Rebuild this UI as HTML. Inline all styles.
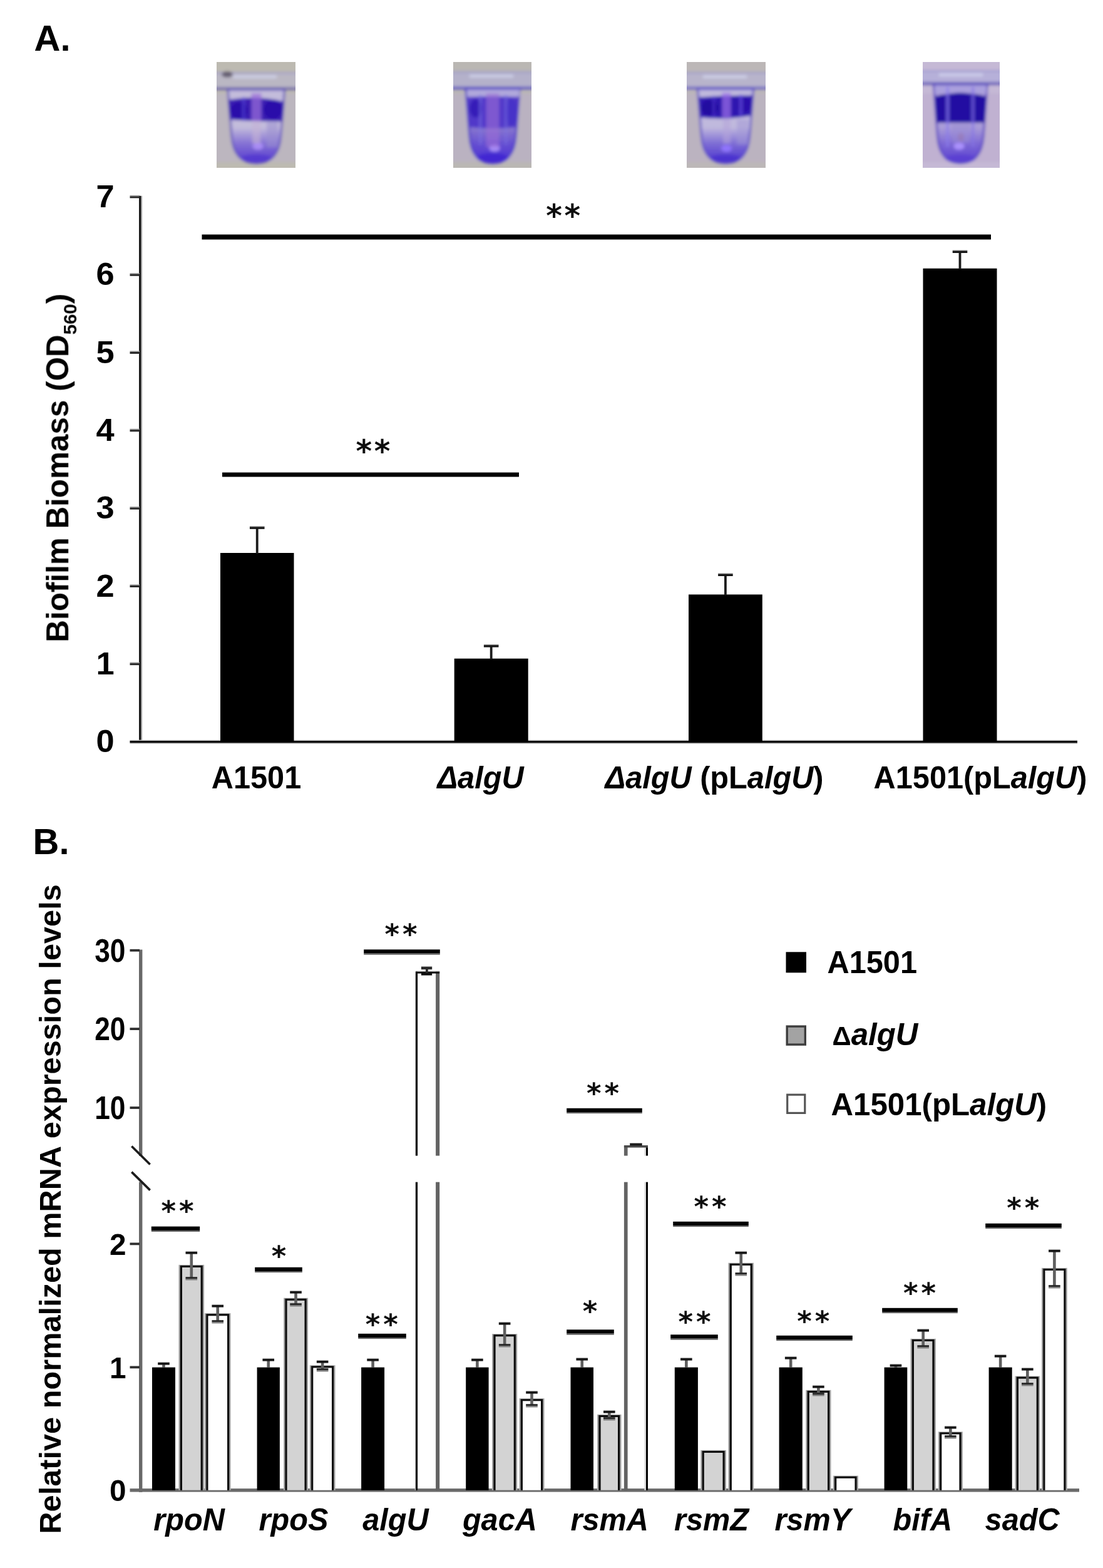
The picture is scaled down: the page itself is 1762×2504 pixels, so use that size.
<!DOCTYPE html>
<html lang="en">
<head>
<meta charset="utf-8">
<title>Figure: biofilm biomass and relative mRNA expression</title>
<style>
html,body{margin:0;padding:0;background:#fff;}
body{width:1762px;height:2504px;overflow:hidden;}
svg{display:block;}
text{font-family:"Liberation Sans", sans-serif;}
</style>
</head>
<body>
<svg width="1762" height="2504" viewBox="0 0 1762 2504">
<defs>
<filter id="b3" x="-20%" y="-20%" width="140%" height="140%"><feGaussianBlur stdDeviation="2.5"/></filter>
<filter id="b1" x="-20%" y="-20%" width="140%" height="140%"><feGaussianBlur stdDeviation="1.2"/></filter>
<filter id="soft2" filterUnits="userSpaceOnUse" x="0" y="0" width="1762" height="2504"><feGaussianBlur stdDeviation="0.45"/></filter>
<filter id="soft" filterUnits="userSpaceOnUse" x="0" y="0" width="1762" height="2504"><feGaussianBlur stdDeviation="0.7"/></filter>
</defs>
<rect x="0" y="0" width="1762" height="2504" fill="#fff"/>
<g id="fig" filter="url(#soft2)">

<clipPath id="tc0"><rect x="0" y="0" width="126" height="169"/></clipPath>
<clipPath id="tc1"><rect x="0" y="0" width="125" height="169"/></clipPath>
<clipPath id="tc2"><rect x="0" y="0" width="126" height="169"/></clipPath>
<clipPath id="tc3"><rect x="0" y="0" width="123" height="169"/></clipPath>
<g transform="translate(346,99)" clip-path="url(#tc0)">
<rect x="-10" y="-10" width="146" height="189" fill="#bdbab1"/>
<g filter="url(#b3)">
<linearGradient id="pool1" x1="0" y1="0" x2="0" y2="1"><stop offset="0" stop-color="#5438cf" stop-opacity="0"/><stop offset="0.45" stop-color="#5438cf" stop-opacity="0.55"/><stop offset="1" stop-color="#5438cf" stop-opacity="1"/></linearGradient>
<rect x="-10" y="50" width="150" height="110" fill="#bcb5c2" opacity="0.85"/>
<rect x="-10" y="16" width="150" height="26" fill="#b9b5ca" opacity="0.75"/>
<rect x="-10" y="16" width="150" height="2.6" fill="#8f8ccb" opacity="0.55"/>
<rect x="26" y="21" width="70" height="5" fill="#d3d6ee" opacity="0.75"/>
<rect x="-10" y="40.5" width="150" height="4.4" fill="#6b63a6" opacity="0.95"/>
<path d="M18,44 L24.0,118 C26.0,146.71 38.815,161.5 63.25,161.5 C87.685,161.5 100.5,146.71 102.5,118 L108.5,44 Z" fill="#c3bddd" fill-opacity="0.92" stroke="#5b4eba" stroke-width="3.0" stroke-opacity="0.9"/>
<path d="M20,104 L26.0,122 C28.0,147.41 39.894999999999996,160.5 63.25,160.5 C86.605,160.5 98.5,147.41 100.5,122 L106.5,104 Z" fill="url(#pool1)" fill-opacity="1"/>
<ellipse cx="63.25" cy="154" rx="24" ry="6.5" fill="#5438cf" opacity="0.9"/>
<ellipse cx="66" cy="134.5" rx="8.5" ry="5.5" fill="#ab8ef6" opacity="0.95"/>
<ellipse cx="17" cy="20" rx="9" ry="4.5" fill="#5f586a" opacity="0.95"/>
<rect x="80" y="96" width="18" height="40" fill="#9a8fd0" opacity="0.55"/>
<path d="M18.5,60.5 Q63.25,52 108,63.5 L105.5,95.0 Q63.25,95.5 21.0,92.0 Z" fill="#3a1fb2" fill-opacity="1"/>
<ellipse cx="36" cy="78" rx="14" ry="14" fill="#2a0ca8" opacity="0.9"/>
<ellipse cx="90" cy="76" rx="15" ry="16" fill="#2a0ca8" opacity="0.9"/>
<rect x="55.5" y="50" width="16" height="44" fill="#9b6dda" opacity="0.7"/>
<rect x="57" y="94" width="13" height="36" fill="#c4b3d6" opacity="0.6"/>
<rect x="41" y="56" width="4.5" height="38" fill="#5f51e2" opacity="0.5"/>
</g>
</g>
<g transform="translate(724,99)" clip-path="url(#tc1)">
<rect x="-10" y="-10" width="145" height="189" fill="#bab7b3"/>
<g filter="url(#b3)">
<linearGradient id="pool2" x1="0" y1="0" x2="0" y2="1"><stop offset="0" stop-color="#4a2fd4" stop-opacity="0"/><stop offset="0.45" stop-color="#4a2fd4" stop-opacity="0.55"/><stop offset="1" stop-color="#4a2fd4" stop-opacity="1"/></linearGradient>
<rect x="-10" y="50" width="150" height="110" fill="#bab2c3" opacity="0.85"/>
<rect x="-10" y="15" width="150" height="26" fill="#b2afd2" opacity="0.75"/>
<rect x="-10" y="15" width="150" height="2.6" fill="#8f8ccb" opacity="0.55"/>
<rect x="26" y="20" width="70" height="5" fill="#d3d6ee" opacity="0.75"/>
<rect x="-10" y="39.5" width="150" height="4.4" fill="#5c51c2" opacity="0.95"/>
<path d="M20,43 L26.0,118 C28.0,146.71 39.78,161.5 63.0,161.5 C86.22,161.5 98.0,146.71 100.0,118 L106,43 Z" fill="#8574cf" fill-opacity="0.92" stroke="#4535c4" stroke-width="3.0" stroke-opacity="0.9"/>
<path d="M22,104 L28.0,122 C30.0,147.41 40.86,160.5 63.0,160.5 C85.14,160.5 96.0,147.41 98.0,122 L104,104 Z" fill="url(#pool2)" fill-opacity="1"/>
<ellipse cx="63.0" cy="154" rx="24" ry="6.5" fill="#4a2fd4" opacity="0.9"/>
<ellipse cx="66" cy="137.5" rx="8.5" ry="5.5" fill="#a98ef8" opacity="0.95"/>
<rect x="22" y="44" width="84" height="11" fill="#b9b2de" opacity="0.85"/>
<path d="M22,57 Q63.5,53 105,57 L102.5,104 Q63.5,108 24.5,104 Z" fill="#4e36c8" fill-opacity="0.95"/>
<ellipse cx="36" cy="74" rx="10" ry="15" fill="#3118b6" opacity="0.9"/>
<ellipse cx="93" cy="80" rx="9" ry="22" fill="#4331c8" opacity="0.8"/>
<rect x="52.5" y="50" width="21" height="86" fill="#9c6ed6" opacity="0.6"/>
<rect x="41" y="52" width="4.5" height="80" fill="#7f76e4" opacity="0.5"/>
<rect x="82" y="52" width="4.5" height="80" fill="#7f76e4" opacity="0.45"/>
<ellipse cx="63" cy="153" rx="25" ry="8" fill="#4128d2" opacity="0.9"/>
</g>
</g>
<g transform="translate(1097,99)" clip-path="url(#tc2)">
<rect x="-10" y="-10" width="146" height="189" fill="#bcb7b7"/>
<g filter="url(#b3)">
<linearGradient id="pool3" x1="0" y1="0" x2="0" y2="1"><stop offset="0" stop-color="#4a32ce" stop-opacity="0"/><stop offset="0.45" stop-color="#4a32ce" stop-opacity="0.55"/><stop offset="1" stop-color="#4a32ce" stop-opacity="1"/></linearGradient>
<rect x="-10" y="50" width="150" height="110" fill="#bbb3c2" opacity="0.85"/>
<rect x="-10" y="16" width="150" height="25" fill="#b7b3d2" opacity="0.75"/>
<rect x="-10" y="16" width="150" height="2.6" fill="#8f8ccb" opacity="0.55"/>
<rect x="26" y="21" width="70" height="5" fill="#d3d6ee" opacity="0.75"/>
<rect x="-10" y="39.5" width="150" height="4.4" fill="#6a62c4" opacity="0.95"/>
<path d="M17.5,43 L23.5,118 C25.5,146.71 37.97,161.5 62.0,161.5 C86.03,161.5 98.5,146.71 100.5,118 L106.5,43 Z" fill="#c0badf" fill-opacity="0.92" stroke="#5849c4" stroke-width="3.0" stroke-opacity="0.9"/>
<path d="M19.5,104 L25.5,122 C27.5,147.41 39.05,160.5 62.0,160.5 C84.95,160.5 96.5,147.41 98.5,122 L104.5,104 Z" fill="url(#pool3)" fill-opacity="1"/>
<ellipse cx="62.0" cy="154" rx="24" ry="6.5" fill="#4a32ce" opacity="0.9"/>
<ellipse cx="63.5" cy="138" rx="8.5" ry="5.5" fill="#9176ff" opacity="0.95"/>
<rect x="80" y="92" width="18" height="40" fill="#a197d6" opacity="0.5"/>
<path d="M19.5,56.5 Q62.5,53 105.5,53.5 L103.0,85.5 Q62.5,93 22.0,88.5 Z" fill="#2f13b0" fill-opacity="1"/>
<ellipse cx="37" cy="73" rx="14" ry="12" fill="#22089e" opacity="0.9"/>
<ellipse cx="91" cy="68" rx="12" ry="11" fill="#2b10ac" opacity="0.85"/>
<rect x="56.5" y="49" width="14" height="40" fill="#9d70e8" opacity="0.7"/>
<rect x="58" y="90" width="12" height="40" fill="#b5a4da" opacity="0.55"/>
<rect x="84" y="52" width="5" height="34" fill="#6d56e2" opacity="0.6"/>
<rect x="41" y="54" width="4.5" height="34" fill="#5b48dc" opacity="0.45"/>
</g>
</g>
<g transform="translate(1474,99)" clip-path="url(#tc3)">
<rect x="-10" y="-10" width="143" height="189" fill="#c2b5d1"/>
<g filter="url(#b3)">
<rect x="-10" y="-10" width="150" height="200" fill="#c8bcd8" opacity="0.55"/>
<linearGradient id="pool4" x1="0" y1="0" x2="0" y2="1"><stop offset="0" stop-color="#5a40d2" stop-opacity="0"/><stop offset="0.45" stop-color="#5a40d2" stop-opacity="0.55"/><stop offset="1" stop-color="#5a40d2" stop-opacity="1"/></linearGradient>
<rect x="-10" y="50" width="150" height="110" fill="#c0b0d0" opacity="0.85"/>
<rect x="-10" y="13" width="150" height="21" fill="#b2acda" opacity="0.75"/>
<rect x="-10" y="13" width="150" height="2.6" fill="#8f8ccb" opacity="0.55"/>
<rect x="26" y="18" width="70" height="5" fill="#d3d6ee" opacity="0.75"/>
<rect x="-10" y="32.5" width="150" height="4.4" fill="#5b50b4" opacity="0.95"/>
<path d="M17.5,36 L23.5,118 C25.5,146.71 37.165,161.5 60.25,161.5 C83.33500000000001,161.5 95.0,146.71 97.0,118 L103,36 Z" fill="#a99cd9" fill-opacity="0.92" stroke="#4c3abe" stroke-width="3.0" stroke-opacity="0.9"/>
<path d="M19.5,104 L25.5,122 C27.5,147.41 38.245,160.5 60.25,160.5 C82.255,160.5 93.0,147.41 95.0,122 L101,104 Z" fill="url(#pool4)" fill-opacity="1"/>
<ellipse cx="60.25" cy="154" rx="24" ry="6.5" fill="#5a40d2" opacity="0.9"/>
<ellipse cx="58" cy="134.5" rx="8.5" ry="5.5" fill="#ad94ff" opacity="0.95"/>
<rect x="19" y="37" width="83" height="13" fill="#aaa1de" opacity="0.8"/>
<path d="M19.5,55 Q60.5,44.0 101.5,55 L99.0,97 Q60.5,97 22.0,97 Z" fill="#230aa2" fill-opacity="1"/>
<ellipse cx="60" cy="57" rx="17" ry="8" fill="#230aa2" opacity="1"/>
<rect x="37.5" y="40" width="4.5" height="96" fill="#8c7eec" opacity="0.7"/>
<rect x="78" y="40" width="4.5" height="96" fill="#8674e6" opacity="0.65"/>
<rect x="47" y="99" width="28" height="30" fill="#9a8cd4" opacity="0.5"/>
<ellipse cx="61" cy="120" rx="5" ry="7" fill="#9a74a0" opacity="0.4"/>
</g>
</g>
<g id="panelA">
<rect x="225.60" y="312.80" width="2.00" height="873.30" fill="#c8c8c8" />
<rect x="222.00" y="312.80" width="3.60" height="873.30" fill="#1a1a1a" />
<rect x="207.50" y="1181.60" width="1513.50" height="6.10" fill="#c4c4c4" />
<rect x="207.50" y="1183.00" width="1513.50" height="3.40" fill="#0c0c0c" />
<rect x="207.50" y="1057.60" width="15.50" height="1.60" fill="#9a9a9a" />
<rect x="207.50" y="1059.20" width="15.50" height="3.00" fill="#262626" />
<rect x="207.50" y="933.30" width="15.50" height="1.60" fill="#9a9a9a" />
<rect x="207.50" y="934.90" width="15.50" height="3.00" fill="#262626" />
<rect x="207.50" y="809.00" width="15.50" height="1.60" fill="#9a9a9a" />
<rect x="207.50" y="810.60" width="15.50" height="3.00" fill="#262626" />
<rect x="207.50" y="684.70" width="15.50" height="1.60" fill="#9a9a9a" />
<rect x="207.50" y="686.30" width="15.50" height="3.00" fill="#262626" />
<rect x="207.50" y="560.40" width="15.50" height="1.60" fill="#9a9a9a" />
<rect x="207.50" y="562.00" width="15.50" height="3.00" fill="#262626" />
<rect x="207.50" y="436.10" width="15.50" height="1.60" fill="#9a9a9a" />
<rect x="207.50" y="437.70" width="15.50" height="3.00" fill="#262626" />
<rect x="207.50" y="311.80" width="15.50" height="1.60" fill="#9a9a9a" />
<rect x="207.50" y="313.40" width="15.50" height="3.00" fill="#262626" />
<rect x="352.00" y="883.00" width="117.50" height="301.50" fill="#000" />
<rect x="408.85" y="842.80" width="3.80" height="41.20" fill="#1c1c1c" />
<rect x="398.95" y="840.20" width="23.60" height="1.40" fill="#9a9a9a" />
<rect x="398.95" y="841.40" width="23.60" height="3.40" fill="#141414" />
<rect x="725.70" y="1051.70" width="118.00" height="132.80" fill="#000" />
<rect x="782.80" y="1031.60" width="3.80" height="21.10" fill="#1c1c1c" />
<rect x="772.90" y="1029.00" width="23.60" height="1.40" fill="#9a9a9a" />
<rect x="772.90" y="1030.20" width="23.60" height="3.40" fill="#141414" />
<rect x="1100.00" y="949.40" width="117.80" height="235.10" fill="#000" />
<rect x="1157.00" y="918.00" width="3.80" height="32.40" fill="#1c1c1c" />
<rect x="1147.10" y="915.40" width="23.60" height="1.40" fill="#9a9a9a" />
<rect x="1147.10" y="916.60" width="23.60" height="3.40" fill="#141414" />
<rect x="1474.50" y="428.70" width="118.00" height="755.80" fill="#000" />
<rect x="1531.60" y="402.00" width="3.80" height="27.70" fill="#1c1c1c" />
<rect x="1521.70" y="399.40" width="23.60" height="1.40" fill="#9a9a9a" />
<rect x="1521.70" y="400.60" width="23.60" height="3.40" fill="#141414" />
<rect x="322.50" y="374.50" width="1260.50" height="8.00" fill="#000" />
<rect x="355.00" y="754.50" width="474.00" height="7.00" fill="#000" />
</g>
<g id="panelB">
<rect x="222.00" y="1516.50" width="5.40" height="329.50" fill="#686868" />
<rect x="222.00" y="1887.50" width="5.40" height="495.30" fill="#686868" />
<line x1="210.3" y1="1830.5" x2="239.7" y2="1859.5" stroke="#1c1c1c" stroke-width="3.6"/>
<line x1="210.3" y1="1871.6" x2="239.7" y2="1900.6" stroke="#1c1c1c" stroke-width="3.6"/>
<rect x="207.50" y="2377.10" width="1516.50" height="5.40" fill="#6a6a6a" />
<rect x="207.50" y="1515.80" width="15.50" height="3.80" fill="#2e2e2e" />
<rect x="207.50" y="1641.20" width="15.50" height="3.80" fill="#2e2e2e" />
<rect x="207.50" y="1767.10" width="15.50" height="3.80" fill="#2e2e2e" />
<rect x="207.50" y="1984.50" width="15.50" height="3.80" fill="#2e2e2e" />
<rect x="207.50" y="2181.50" width="15.50" height="3.80" fill="#2e2e2e" />
<rect x="243.00" y="2183.60" width="37.00" height="196.20" fill="#000" />
<rect x="259.20" y="2178.00" width="4.60" height="6.00" fill="#5e5e5e" />
<rect x="252.20" y="2176.00" width="18.60" height="3.60" fill="#161616" />
<rect x="252.20" y="2174.80" width="18.60" height="1.20" fill="#b8b8b8" />
<rect x="285.40" y="2019.80" width="40.80" height="360.00" fill="#b4b4b4" />
<rect x="286.80" y="2020.60" width="38.00" height="359.20" fill="#7a7a7a" />
<rect x="288.00" y="2021.00" width="35.60" height="358.80" fill="#0a0a0a" />
<rect x="291.00" y="2024.00" width="29.60" height="355.80" fill="#d3d3d3" />
<rect x="303.50" y="2001.00" width="4.60" height="40.00" fill="#5e5e5e" />
<rect x="296.50" y="1999.00" width="18.60" height="3.60" fill="#161616" />
<rect x="296.50" y="1997.80" width="18.60" height="1.20" fill="#b8b8b8" />
<rect x="296.50" y="2039.20" width="18.60" height="3.20" fill="#262626" />
<rect x="296.50" y="2042.40" width="18.60" height="2.00" fill="#7a7a7a" />
<rect x="326.90" y="2097.10" width="41.70" height="282.70" fill="#b4b4b4" />
<rect x="328.30" y="2097.90" width="38.90" height="281.90" fill="#7a7a7a" />
<rect x="329.50" y="2098.30" width="36.50" height="281.50" fill="#0a0a0a" />
<rect x="332.50" y="2101.30" width="30.50" height="278.50" fill="#fff" />
<rect x="345.45" y="2086.00" width="4.60" height="24.00" fill="#5e5e5e" />
<rect x="338.45" y="2084.00" width="18.60" height="3.60" fill="#161616" />
<rect x="338.45" y="2082.80" width="18.60" height="1.20" fill="#b8b8b8" />
<rect x="338.45" y="2108.20" width="18.60" height="3.20" fill="#262626" />
<rect x="338.45" y="2111.40" width="18.60" height="2.00" fill="#7a7a7a" />
<rect x="410.60" y="2183.60" width="36.30" height="196.20" fill="#000" />
<rect x="426.45" y="2172.00" width="4.60" height="12.00" fill="#5e5e5e" />
<rect x="419.45" y="2170.00" width="18.60" height="3.60" fill="#161616" />
<rect x="419.45" y="2168.80" width="18.60" height="1.20" fill="#b8b8b8" />
<rect x="453.00" y="2072.70" width="39.10" height="307.10" fill="#b4b4b4" />
<rect x="454.40" y="2073.50" width="36.30" height="306.30" fill="#7a7a7a" />
<rect x="455.60" y="2073.90" width="33.90" height="305.90" fill="#0a0a0a" />
<rect x="458.60" y="2076.90" width="27.90" height="302.90" fill="#d3d3d3" />
<rect x="470.25" y="2064.00" width="4.60" height="19.00" fill="#5e5e5e" />
<rect x="463.25" y="2062.00" width="18.60" height="3.60" fill="#161616" />
<rect x="463.25" y="2060.80" width="18.60" height="1.20" fill="#b8b8b8" />
<rect x="463.25" y="2081.20" width="18.60" height="3.20" fill="#262626" />
<rect x="463.25" y="2084.40" width="18.60" height="2.00" fill="#7a7a7a" />
<rect x="494.70" y="2180.20" width="40.90" height="199.60" fill="#b4b4b4" />
<rect x="496.10" y="2181.00" width="38.10" height="198.80" fill="#7a7a7a" />
<rect x="497.30" y="2181.40" width="35.70" height="198.40" fill="#0a0a0a" />
<rect x="500.30" y="2184.40" width="29.70" height="195.40" fill="#fff" />
<rect x="512.85" y="2175.00" width="4.60" height="12.00" fill="#5e5e5e" />
<rect x="505.85" y="2173.00" width="18.60" height="3.60" fill="#161616" />
<rect x="505.85" y="2171.80" width="18.60" height="1.20" fill="#b8b8b8" />
<rect x="505.85" y="2185.20" width="18.60" height="3.20" fill="#262626" />
<rect x="505.85" y="2188.40" width="18.60" height="2.00" fill="#7a7a7a" />
<rect x="577.10" y="2183.60" width="37.00" height="196.20" fill="#000" />
<rect x="593.30" y="2172.00" width="4.60" height="12.00" fill="#5e5e5e" />
<rect x="586.30" y="2170.00" width="18.60" height="3.60" fill="#161616" />
<rect x="586.30" y="2168.80" width="18.60" height="1.20" fill="#b8b8b8" />
<rect x="744.20" y="2183.60" width="36.40" height="196.20" fill="#000" />
<rect x="760.10" y="2172.00" width="4.60" height="12.00" fill="#5e5e5e" />
<rect x="753.10" y="2170.00" width="18.60" height="3.60" fill="#161616" />
<rect x="753.10" y="2168.80" width="18.60" height="1.20" fill="#b8b8b8" />
<rect x="786.00" y="2130.10" width="40.30" height="249.70" fill="#b4b4b4" />
<rect x="787.40" y="2130.90" width="37.50" height="248.90" fill="#7a7a7a" />
<rect x="788.60" y="2131.30" width="35.10" height="248.50" fill="#0a0a0a" />
<rect x="791.60" y="2134.30" width="29.10" height="245.50" fill="#d3d3d3" />
<rect x="803.85" y="2114.00" width="4.60" height="34.00" fill="#5e5e5e" />
<rect x="796.85" y="2112.00" width="18.60" height="3.60" fill="#161616" />
<rect x="796.85" y="2110.80" width="18.60" height="1.20" fill="#b8b8b8" />
<rect x="796.85" y="2146.20" width="18.60" height="3.20" fill="#262626" />
<rect x="796.85" y="2149.40" width="18.60" height="2.00" fill="#7a7a7a" />
<rect x="829.40" y="2233.10" width="40.20" height="146.70" fill="#b4b4b4" />
<rect x="830.80" y="2233.90" width="37.40" height="145.90" fill="#7a7a7a" />
<rect x="832.00" y="2234.30" width="35.00" height="145.50" fill="#0a0a0a" />
<rect x="835.00" y="2237.30" width="29.00" height="142.50" fill="#fff" />
<rect x="847.20" y="2224.00" width="4.60" height="20.00" fill="#5e5e5e" />
<rect x="840.20" y="2222.00" width="18.60" height="3.60" fill="#161616" />
<rect x="840.20" y="2220.80" width="18.60" height="1.20" fill="#b8b8b8" />
<rect x="840.20" y="2242.20" width="18.60" height="3.20" fill="#262626" />
<rect x="840.20" y="2245.40" width="18.60" height="2.00" fill="#7a7a7a" />
<rect x="911.50" y="2183.60" width="36.50" height="196.20" fill="#000" />
<rect x="927.45" y="2171.00" width="4.60" height="13.00" fill="#5e5e5e" />
<rect x="920.45" y="2169.00" width="18.60" height="3.60" fill="#161616" />
<rect x="920.45" y="2167.80" width="18.60" height="1.20" fill="#b8b8b8" />
<rect x="954.00" y="2258.80" width="38.60" height="121.00" fill="#b4b4b4" />
<rect x="955.40" y="2259.60" width="35.80" height="120.20" fill="#7a7a7a" />
<rect x="956.60" y="2260.00" width="33.40" height="119.80" fill="#0a0a0a" />
<rect x="959.60" y="2263.00" width="27.40" height="116.80" fill="#d3d3d3" />
<rect x="971.00" y="2255.00" width="4.60" height="10.00" fill="#5e5e5e" />
<rect x="964.00" y="2253.00" width="18.60" height="3.60" fill="#161616" />
<rect x="964.00" y="2251.80" width="18.60" height="1.20" fill="#b8b8b8" />
<rect x="964.00" y="2263.20" width="18.60" height="3.20" fill="#262626" />
<rect x="964.00" y="2266.40" width="18.60" height="2.00" fill="#7a7a7a" />
<rect x="1077.80" y="2183.60" width="37.10" height="196.20" fill="#000" />
<rect x="1094.05" y="2171.00" width="4.60" height="13.00" fill="#5e5e5e" />
<rect x="1087.05" y="2169.00" width="18.60" height="3.60" fill="#161616" />
<rect x="1087.05" y="2167.80" width="18.60" height="1.20" fill="#b8b8b8" />
<rect x="1119.20" y="2315.80" width="40.90" height="64.00" fill="#b4b4b4" />
<rect x="1120.60" y="2316.60" width="38.10" height="63.20" fill="#7a7a7a" />
<rect x="1121.80" y="2317.00" width="35.70" height="62.80" fill="#0a0a0a" />
<rect x="1124.80" y="2320.00" width="29.70" height="59.80" fill="#d3d3d3" />
<rect x="1163.30" y="2016.70" width="40.90" height="363.10" fill="#b4b4b4" />
<rect x="1164.70" y="2017.50" width="38.10" height="362.30" fill="#7a7a7a" />
<rect x="1165.90" y="2017.90" width="35.70" height="361.90" fill="#0a0a0a" />
<rect x="1168.90" y="2020.90" width="29.70" height="358.90" fill="#fff" />
<rect x="1181.45" y="2001.00" width="4.60" height="33.00" fill="#5e5e5e" />
<rect x="1174.45" y="1999.00" width="18.60" height="3.60" fill="#161616" />
<rect x="1174.45" y="1997.80" width="18.60" height="1.20" fill="#b8b8b8" />
<rect x="1174.45" y="2032.20" width="18.60" height="3.20" fill="#262626" />
<rect x="1174.45" y="2035.40" width="18.60" height="2.00" fill="#7a7a7a" />
<rect x="1244.60" y="2183.60" width="37.20" height="196.20" fill="#000" />
<rect x="1260.90" y="2169.00" width="4.60" height="15.00" fill="#5e5e5e" />
<rect x="1253.90" y="2167.00" width="18.60" height="3.60" fill="#161616" />
<rect x="1253.90" y="2165.80" width="18.60" height="1.20" fill="#b8b8b8" />
<rect x="1287.20" y="2219.80" width="40.40" height="160.00" fill="#b4b4b4" />
<rect x="1288.60" y="2220.60" width="37.60" height="159.20" fill="#7a7a7a" />
<rect x="1289.80" y="2221.00" width="35.20" height="158.80" fill="#0a0a0a" />
<rect x="1292.80" y="2224.00" width="29.20" height="155.80" fill="#d3d3d3" />
<rect x="1305.10" y="2215.00" width="4.60" height="11.00" fill="#5e5e5e" />
<rect x="1298.10" y="2213.00" width="18.60" height="3.60" fill="#161616" />
<rect x="1298.10" y="2211.80" width="18.60" height="1.20" fill="#b8b8b8" />
<rect x="1298.10" y="2224.20" width="18.60" height="3.20" fill="#262626" />
<rect x="1298.10" y="2227.40" width="18.60" height="2.00" fill="#7a7a7a" />
<rect x="1330.70" y="2356.60" width="40.40" height="23.20" fill="#b4b4b4" />
<rect x="1332.10" y="2357.40" width="37.60" height="22.40" fill="#7a7a7a" />
<rect x="1333.30" y="2357.80" width="35.20" height="22.00" fill="#0a0a0a" />
<rect x="1336.30" y="2360.80" width="29.20" height="19.00" fill="#fff" />
<rect x="1412.60" y="2183.60" width="36.70" height="196.20" fill="#000" />
<rect x="1428.65" y="2181.00" width="4.60" height="3.00" fill="#5e5e5e" />
<rect x="1421.65" y="2179.00" width="18.60" height="3.60" fill="#161616" />
<rect x="1421.65" y="2177.80" width="18.60" height="1.20" fill="#b8b8b8" />
<rect x="1454.40" y="2137.80" width="40.60" height="242.00" fill="#b4b4b4" />
<rect x="1455.80" y="2138.60" width="37.80" height="241.20" fill="#7a7a7a" />
<rect x="1457.00" y="2139.00" width="35.40" height="240.80" fill="#0a0a0a" />
<rect x="1460.00" y="2142.00" width="29.40" height="237.80" fill="#d3d3d3" />
<rect x="1472.40" y="2125.00" width="4.60" height="25.00" fill="#5e5e5e" />
<rect x="1465.40" y="2123.00" width="18.60" height="3.60" fill="#161616" />
<rect x="1465.40" y="2121.80" width="18.60" height="1.20" fill="#b8b8b8" />
<rect x="1465.40" y="2148.20" width="18.60" height="3.20" fill="#262626" />
<rect x="1465.40" y="2151.40" width="18.60" height="2.00" fill="#7a7a7a" />
<rect x="1498.70" y="2286.30" width="39.30" height="93.50" fill="#b4b4b4" />
<rect x="1500.10" y="2287.10" width="36.50" height="92.70" fill="#7a7a7a" />
<rect x="1501.30" y="2287.50" width="34.10" height="92.30" fill="#0a0a0a" />
<rect x="1504.30" y="2290.50" width="28.10" height="89.30" fill="#fff" />
<rect x="1516.05" y="2280.00" width="4.60" height="14.00" fill="#5e5e5e" />
<rect x="1509.05" y="2278.00" width="18.60" height="3.60" fill="#161616" />
<rect x="1509.05" y="2276.80" width="18.60" height="1.20" fill="#b8b8b8" />
<rect x="1509.05" y="2292.20" width="18.60" height="3.20" fill="#262626" />
<rect x="1509.05" y="2295.40" width="18.60" height="2.00" fill="#7a7a7a" />
<rect x="1579.60" y="2183.60" width="37.10" height="196.20" fill="#000" />
<rect x="1595.85" y="2166.00" width="4.60" height="18.00" fill="#5e5e5e" />
<rect x="1588.85" y="2164.00" width="18.60" height="3.60" fill="#161616" />
<rect x="1588.85" y="2162.80" width="18.60" height="1.20" fill="#b8b8b8" />
<rect x="1621.40" y="2197.50" width="39.90" height="182.30" fill="#b4b4b4" />
<rect x="1622.80" y="2198.30" width="37.10" height="181.50" fill="#7a7a7a" />
<rect x="1624.00" y="2198.70" width="34.70" height="181.10" fill="#0a0a0a" />
<rect x="1627.00" y="2201.70" width="28.70" height="178.10" fill="#d3d3d3" />
<rect x="1639.05" y="2187.00" width="4.60" height="23.00" fill="#5e5e5e" />
<rect x="1632.05" y="2185.00" width="18.60" height="3.60" fill="#161616" />
<rect x="1632.05" y="2183.80" width="18.60" height="1.20" fill="#b8b8b8" />
<rect x="1632.05" y="2208.20" width="18.60" height="3.20" fill="#262626" />
<rect x="1632.05" y="2211.40" width="18.60" height="2.00" fill="#7a7a7a" />
<rect x="1663.90" y="2024.80" width="41.00" height="355.00" fill="#b4b4b4" />
<rect x="1665.30" y="2025.60" width="38.20" height="354.20" fill="#7a7a7a" />
<rect x="1666.50" y="2026.00" width="35.80" height="353.80" fill="#0a0a0a" />
<rect x="1669.50" y="2029.00" width="29.80" height="350.80" fill="#fff" />
<rect x="1682.10" y="1998.00" width="4.60" height="56.00" fill="#5e5e5e" />
<rect x="1675.10" y="1996.00" width="18.60" height="3.60" fill="#161616" />
<rect x="1675.10" y="1994.80" width="18.60" height="1.20" fill="#b8b8b8" />
<rect x="1675.10" y="2052.20" width="18.60" height="3.20" fill="#262626" />
<rect x="1675.10" y="2055.40" width="18.60" height="2.00" fill="#7a7a7a" />
<rect x="662.90" y="1551.40" width="1.10" height="294.20" fill="#d6d6d6"/>
<rect x="664.00" y="1551.40" width="3.10" height="294.20" fill="#050505"/>
<rect x="696.10" y="1551.40" width="6.10" height="294.20" fill="#636363"/>
<rect x="662.90" y="1887.70" width="1.10" height="492.10" fill="#d6d6d6"/>
<rect x="664.00" y="1887.70" width="3.10" height="492.10" fill="#050505"/>
<rect x="696.10" y="1887.70" width="6.10" height="492.10" fill="#636363"/>
<rect x="664.00" y="1551.40" width="38.20" height="3.20" fill="#0c0c0c"/>
<rect x="664.00" y="1550.20" width="38.20" height="1.20" fill="#d0d0d0"/>
<rect x="672.90" y="1543.60" width="17.30" height="4.60" fill="#2c2c2c"/>
<rect x="680.00" y="1546.00" width="3.80" height="8.00" fill="#2c2c2c"/>
<rect x="672.90" y="1553.80" width="17.30" height="3.80" fill="#0c0c0c"/>
<rect x="996.90" y="1829.50" width="5.70" height="16.10" fill="#636363"/>
<rect x="1031.80" y="1829.50" width="3.20" height="16.10" fill="#050505"/>
<rect x="996.90" y="1887.70" width="5.70" height="492.10" fill="#636363"/>
<rect x="1031.80" y="1887.70" width="3.20" height="492.10" fill="#050505"/>
<rect x="996.90" y="1829.00" width="38.10" height="3.60" fill="#4a4a4a"/>
<rect x="1006.20" y="1825.60" width="19.50" height="4.00" fill="#1e1e1e"/>
<rect x="1029.40" y="1833.00" width="2.40" height="12.60" fill="#dcdcdc"/>
<rect x="1029.40" y="1887.70" width="2.40" height="492.10" fill="#dcdcdc"/>
<rect x="241.80" y="1958.60" width="77.40" height="6.30" fill="#000" />
<rect x="241.80" y="1964.90" width="77.40" height="2.00" fill="#5a5a5a" />
<rect x="407.20" y="2023.80" width="75.60" height="6.30" fill="#000" />
<rect x="407.20" y="2030.10" width="75.60" height="2.00" fill="#5a5a5a" />
<rect x="572.20" y="2129.80" width="76.60" height="6.30" fill="#000" />
<rect x="572.20" y="2136.10" width="76.60" height="2.00" fill="#5a5a5a" />
<rect x="581.20" y="1516.30" width="121.60" height="6.30" fill="#000" />
<rect x="581.20" y="1522.60" width="121.60" height="2.00" fill="#5a5a5a" />
<rect x="905.20" y="2123.30" width="75.60" height="6.30" fill="#000" />
<rect x="905.20" y="2129.60" width="75.60" height="2.00" fill="#5a5a5a" />
<rect x="905.20" y="1769.80" width="120.60" height="6.30" fill="#000" />
<rect x="905.20" y="1776.10" width="120.60" height="2.00" fill="#5a5a5a" />
<rect x="1071.20" y="2131.30" width="75.60" height="6.30" fill="#000" />
<rect x="1071.20" y="2137.60" width="75.60" height="2.00" fill="#5a5a5a" />
<rect x="1075.20" y="1950.80" width="120.60" height="6.30" fill="#000" />
<rect x="1075.20" y="1957.10" width="120.60" height="2.00" fill="#5a5a5a" />
<rect x="1240.20" y="2132.80" width="121.60" height="6.30" fill="#000" />
<rect x="1240.20" y="2139.10" width="121.60" height="2.00" fill="#5a5a5a" />
<rect x="1409.20" y="2088.80" width="120.60" height="6.30" fill="#000" />
<rect x="1409.20" y="2095.10" width="120.60" height="2.00" fill="#5a5a5a" />
<rect x="1574.20" y="1953.80" width="121.60" height="6.30" fill="#000" />
<rect x="1574.20" y="1960.10" width="121.60" height="2.00" fill="#5a5a5a" />
<rect x="1255.50" y="1520.30" width="32.50" height="33.00" fill="#000" />
<rect x="1255.50" y="1637.40" width="32.50" height="32.40" fill="#3c3c3c" />
<rect x="1258.90" y="1640.80" width="25.70" height="25.60" fill="#a3a3a3" />
<rect x="1256.10" y="1746.60" width="31.30" height="32.40" fill="#555555" />
<rect x="1259.30" y="1749.80" width="24.90" height="26.00" fill="#ffffff" />
</g>
</g>
<g id="labels" filter="url(#soft)">
<text x="54.50" y="80.70" font-size="58" font-weight="bold" font-style="normal" text-anchor="start" fill="#000" style='font-family:"Liberation Sans", sans-serif' >A.</text>
<text transform="translate(182.80,1201.10) scale(1.06,1)" font-size="49.5" font-weight="bold" font-style="normal" text-anchor="end" fill="#000">0</text>
<text transform="translate(182.80,1076.80) scale(1.06,1)" font-size="49.5" font-weight="bold" font-style="normal" text-anchor="end" fill="#000">1</text>
<text transform="translate(182.80,952.50) scale(1.06,1)" font-size="49.5" font-weight="bold" font-style="normal" text-anchor="end" fill="#000">2</text>
<text transform="translate(182.80,828.20) scale(1.06,1)" font-size="49.5" font-weight="bold" font-style="normal" text-anchor="end" fill="#000">3</text>
<text transform="translate(182.80,703.90) scale(1.06,1)" font-size="49.5" font-weight="bold" font-style="normal" text-anchor="end" fill="#000">4</text>
<text transform="translate(182.80,579.60) scale(1.06,1)" font-size="49.5" font-weight="bold" font-style="normal" text-anchor="end" fill="#000">5</text>
<text transform="translate(182.80,455.30) scale(1.06,1)" font-size="49.5" font-weight="bold" font-style="normal" text-anchor="end" fill="#000">6</text>
<text transform="translate(182.80,331.00) scale(1.06,1)" font-size="49.5" font-weight="bold" font-style="normal" text-anchor="end" fill="#000">7</text>
<text transform="translate(109.2,747.2) rotate(-90)" font-size="49.4" font-weight="bold" text-anchor="middle">Biofilm Biomass (OD<tspan font-size="29.5" dy="12.5">560</tspan><tspan dy="-12.5">)</tspan></text>
<text x="901.60" y="361.85" font-size="49" font-weight="bold" font-style="normal" text-anchor="middle" fill="#111" style='font-family:"DejaVu Sans", "Liberation Sans", sans-serif' letter-spacing="3.6">**</text>
<text x="597.80" y="738.25" font-size="49" font-weight="bold" font-style="normal" text-anchor="middle" fill="#111" style='font-family:"DejaVu Sans", "Liberation Sans", sans-serif' letter-spacing="3.6">**</text>
<text transform="translate(409.50,1258.60) scale(0.97,1)" font-size="50.2" font-weight="bold" font-style="normal" text-anchor="middle" fill="#000">A1501</text>
<text transform="translate(767.50,1258.60) scale(0.97,1)" font-size="50.2" font-weight="bold" font-style="italic" text-anchor="middle" fill="#000">ΔalgU</text>
<text transform="translate(1141.00,1258.60) scale(0.97,1)" font-size="50.2" font-weight="bold" font-style="normal" text-anchor="middle" fill="#000"><tspan font-style="italic">ΔalgU</tspan> (pL<tspan font-style="italic">algU</tspan>)</text>
<text transform="translate(1566.00,1258.60) scale(0.97,1)" font-size="50.2" font-weight="bold" font-style="normal" text-anchor="middle" fill="#000">A1501(pL<tspan font-style="italic">algU</tspan>)</text>
<text x="52.50" y="1364.30" font-size="58" font-weight="bold" font-style="normal" text-anchor="start" fill="#000" style='font-family:"Liberation Sans", sans-serif' >B.</text>
<text transform="translate(200.50,1535.90) scale(0.86,1)" font-size="51.5" font-weight="bold" font-style="normal" text-anchor="end" fill="#000">30</text>
<text transform="translate(200.50,1661.30) scale(0.86,1)" font-size="51.5" font-weight="bold" font-style="normal" text-anchor="end" fill="#000">20</text>
<text transform="translate(200.50,1787.20) scale(0.86,1)" font-size="51.5" font-weight="bold" font-style="normal" text-anchor="end" fill="#000">10</text>
<text transform="translate(201.50,2003.80) scale(0.98,1)" font-size="48.7" font-weight="bold" font-style="normal" text-anchor="end" fill="#000">2</text>
<text transform="translate(201.50,2200.80) scale(0.98,1)" font-size="48.7" font-weight="bold" font-style="normal" text-anchor="end" fill="#000">1</text>
<text transform="translate(201.50,2397.20) scale(0.98,1)" font-size="48.7" font-weight="bold" font-style="normal" text-anchor="end" fill="#000">0</text>
<text transform="translate(96.8,1930.9) rotate(-90)" font-size="48.7" font-weight="bold" text-anchor="middle">Relative normalized mRNA expression levels</text>
<text x="286.10" y="1948.92" font-size="45" font-weight="bold" font-style="normal" text-anchor="middle" fill="#111" style='font-family:"DejaVu Sans", "Liberation Sans", sans-serif' letter-spacing="5.0">**</text>
<text x="448.00" y="2021.42" font-size="45" font-weight="bold" font-style="normal" text-anchor="middle" fill="#111" style='font-family:"DejaVu Sans", "Liberation Sans", sans-serif' letter-spacing="5.0">*</text>
<text x="612.30" y="2129.62" font-size="45" font-weight="bold" font-style="normal" text-anchor="middle" fill="#111" style='font-family:"DejaVu Sans", "Liberation Sans", sans-serif' letter-spacing="5.0">**</text>
<text x="643.00" y="1507.42" font-size="45" font-weight="bold" font-style="normal" text-anchor="middle" fill="#111" style='font-family:"DejaVu Sans", "Liberation Sans", sans-serif' letter-spacing="5.0">**</text>
<text x="945.10" y="2109.42" font-size="45" font-weight="bold" font-style="normal" text-anchor="middle" fill="#111" style='font-family:"DejaVu Sans", "Liberation Sans", sans-serif' letter-spacing="5.0">*</text>
<text x="965.50" y="1761.22" font-size="45" font-weight="bold" font-style="normal" text-anchor="middle" fill="#111" style='font-family:"DejaVu Sans", "Liberation Sans", sans-serif' letter-spacing="5.0">**</text>
<text x="1112.00" y="2126.12" font-size="45" font-weight="bold" font-style="normal" text-anchor="middle" fill="#111" style='font-family:"DejaVu Sans", "Liberation Sans", sans-serif' letter-spacing="5.0">**</text>
<text x="1137.10" y="1942.22" font-size="45" font-weight="bold" font-style="normal" text-anchor="middle" fill="#111" style='font-family:"DejaVu Sans", "Liberation Sans", sans-serif' letter-spacing="5.0">**</text>
<text x="1301.80" y="2125.32" font-size="45" font-weight="bold" font-style="normal" text-anchor="middle" fill="#111" style='font-family:"DejaVu Sans", "Liberation Sans", sans-serif' letter-spacing="5.0">**</text>
<text x="1471.50" y="2079.52" font-size="45" font-weight="bold" font-style="normal" text-anchor="middle" fill="#111" style='font-family:"DejaVu Sans", "Liberation Sans", sans-serif' letter-spacing="5.0">**</text>
<text x="1636.70" y="1944.12" font-size="45" font-weight="bold" font-style="normal" text-anchor="middle" fill="#111" style='font-family:"DejaVu Sans", "Liberation Sans", sans-serif' letter-spacing="5.0">**</text>
<text transform="translate(302.00,2444.00) scale(0.97,1)" font-size="50.2" font-weight="bold" font-style="italic" text-anchor="middle" fill="#000">rpoN</text>
<text transform="translate(469.00,2444.00) scale(0.97,1)" font-size="50.2" font-weight="bold" font-style="italic" text-anchor="middle" fill="#000">rpoS</text>
<text transform="translate(632.00,2444.00) scale(0.97,1)" font-size="50.2" font-weight="bold" font-style="italic" text-anchor="middle" fill="#000">algU</text>
<text transform="translate(798.40,2444.00) scale(0.97,1)" font-size="50.2" font-weight="bold" font-style="italic" text-anchor="middle" fill="#000">gacA</text>
<text transform="translate(973.70,2444.00) scale(0.97,1)" font-size="50.2" font-weight="bold" font-style="italic" text-anchor="middle" fill="#000">rsmA</text>
<text transform="translate(1136.50,2444.00) scale(0.97,1)" font-size="50.2" font-weight="bold" font-style="italic" text-anchor="middle" fill="#000">rsmZ</text>
<text transform="translate(1298.30,2444.00) scale(0.97,1)" font-size="50.2" font-weight="bold" font-style="italic" text-anchor="middle" fill="#000">rsmY</text>
<text transform="translate(1473.80,2444.00) scale(0.97,1)" font-size="50.2" font-weight="bold" font-style="italic" text-anchor="middle" fill="#000">bifA</text>
<text transform="translate(1633.10,2444.00) scale(0.97,1)" font-size="50.2" font-weight="bold" font-style="italic" text-anchor="middle" fill="#000">sadC</text>
<text transform="translate(1321.50,1554.00) scale(0.965,1)" font-size="50.5" font-weight="bold" font-style="normal" text-anchor="start" fill="#000">A1501</text>
<text transform="translate(1329.50,1669.20) scale(0.975,1)" font-size="50.5" font-weight="bold" font-style="normal" text-anchor="start" fill="#000"><tspan font-size="43">Δ</tspan><tspan font-style="italic">algU</tspan></text>
<text transform="translate(1327.50,1781.30) scale(0.975,1)" font-size="50.5" font-weight="bold" font-style="normal" text-anchor="start" fill="#000">A1501(pL<tspan font-style="italic">algU</tspan>)</text>
</g>
</svg>
</body>
</html>
